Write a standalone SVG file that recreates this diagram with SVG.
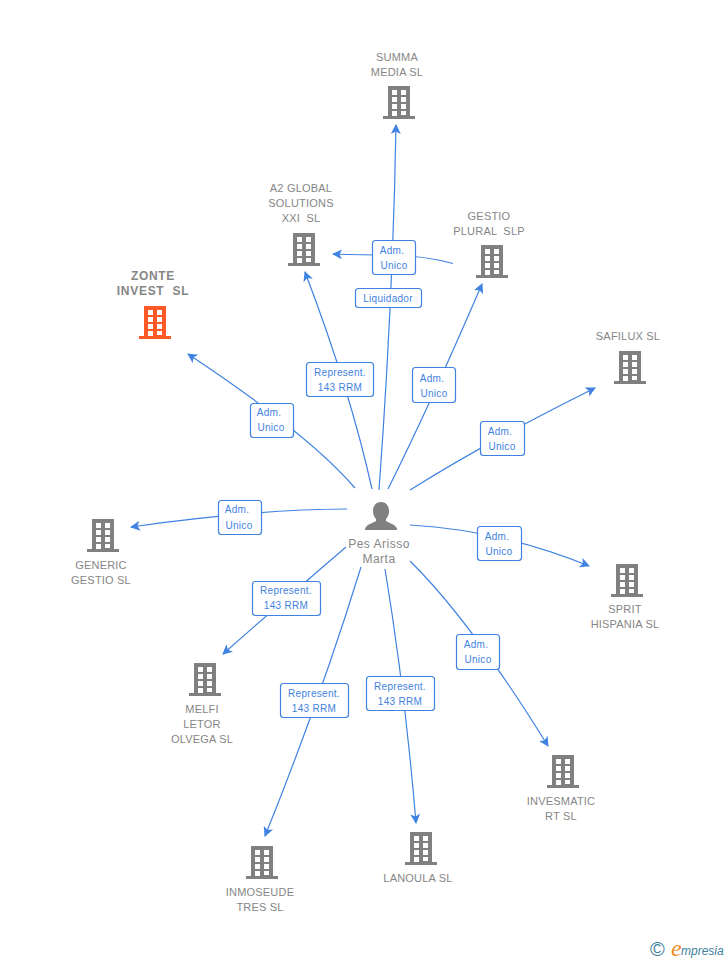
<svg xmlns="http://www.w3.org/2000/svg" width="728" height="960" viewBox="0 0 728 960">
<style>
text{font-family:"Liberation Sans",Arial,sans-serif}
.n{font-size:11px;fill:#868686;text-anchor:middle;letter-spacing:.2px}
.z{font-size:12px;font-weight:bold;fill:#868686;text-anchor:middle;letter-spacing:.7px}
.p{font-size:12px;fill:#868686;text-anchor:middle;letter-spacing:.5px}
.l{font-size:10px;fill:#3f82e2;text-anchor:middle;letter-spacing:.3px}
.b{fill:#fff;stroke:#3f82e2;stroke-width:1.2}
.c{fill:none;stroke:#3f82e2;stroke-width:1.2;marker-end:url(#a)}
.d{fill:none;stroke:#3f82e2;stroke-width:1.2}
</style>
<defs>
<marker id="a" markerWidth="12" markerHeight="12" refX="9" refY="5" orient="auto" markerUnits="userSpaceOnUse"><path d="M0 0L10 5L0 10L2.500 5Z" fill="#3f82e2"/></marker>
<path id="bld" fill-rule="evenodd" d="M-11 0H11V30H16V33H-16V30H-11ZM-7 4V9H-2V4ZM2 4V9H7V4ZM-7 11V16H-2V11ZM2 11V16H7V11ZM-7 18V23H-2V18ZM2 18V23H7V18ZM-7 25V30H-2V25ZM2 25V29H7V25Z"/>
</defs>
<g id="connectors">
<path class="c" d="M379 490Q393 300 396 125"/>
<path class="c" d="M372 489Q350 390 305 272"/>
<path class="d" d="M453 263.500Q425 256 394 255"/>
<path class="c" d="M394 255Q360 255 333 254"/>
<path class="c" d="M388 489Q430 405 482 284"/>
<path class="c" d="M355 488Q310 435 188 354"/>
<path class="c" d="M410 490Q490 440 595 388"/>
<path class="c" d="M347 509Q260 509 131 527"/>
<path class="c" d="M410 525Q500 530 589 566"/>
<path class="c" d="M346 547Q290 595 223 654"/>
<path class="c" d="M410 561Q470 620 548 746"/>
<path class="c" d="M385 569Q405 690 416 823"/>
<path class="c" d="M361 567Q320 700 265 836"/>
</g>
<g id="labels">
<rect class="b" x="372.500" y="240.500" width="43" height="34" rx="3"/><text class="l" x="392" y="254">Adm.</text><text class="l" x="394" y="269">Unico</text>
<rect class="b" x="355.500" y="288.500" width="66" height="19" rx="3"/><text class="l" x="388" y="302">Liquidador</text>
<rect class="b" x="306.500" y="362.500" width="67" height="34" rx="3"/><text class="l" x="340" y="376">Represent.</text><text class="l" x="340" y="391">143 RRM</text>
<rect class="b" x="412.500" y="367.500" width="43" height="35" rx="3"/><text class="l" x="432" y="382">Adm.</text><text class="l" x="434" y="397">Unico</text>
<rect class="b" x="250.500" y="403.500" width="43" height="34" rx="3"/><text class="l" x="269" y="416">Adm.</text><text class="l" x="271" y="431">Unico</text>
<rect class="b" x="480.500" y="421.500" width="44" height="34" rx="3"/><text class="l" x="500" y="435">Adm.</text><text class="l" x="502" y="450">Unico</text>
<rect class="b" x="218.500" y="500.500" width="43" height="34" rx="3"/><text class="l" x="237" y="513">Adm.</text><text class="l" x="239" y="529">Unico</text>
<rect class="b" x="477.500" y="526.500" width="44" height="34" rx="3"/><text class="l" x="497" y="540">Adm.</text><text class="l" x="499" y="555">Unico</text>
<rect class="b" x="252.500" y="581.500" width="68" height="34" rx="3"/><text class="l" x="286" y="594">Represent.</text><text class="l" x="286" y="609">143 RRM</text>
<rect class="b" x="456.500" y="634.500" width="43" height="35" rx="3"/><text class="l" x="476" y="648">Adm.</text><text class="l" x="478" y="663">Unico</text>
<rect class="b" x="366.500" y="676.500" width="68" height="34" rx="3"/><text class="l" x="400" y="690">Represent.</text><text class="l" x="400" y="705">143 RRM</text>
<rect class="b" x="280.500" y="683.500" width="68" height="34" rx="3"/><text class="l" x="314" y="697">Represent.</text><text class="l" x="314" y="712">143 RRM</text>
</g>
<g id="person">
<path fill="#808080" d="M381 502c-5 0-8 4-8 9 0 3 1 6 3 8v2c-3 2-8 3-10 6-1 1-1 2-1 3h32c0-1 0-2-1-3-2-3-7-4-10-6v-2c2-2 3-5 3-8 0-5-3-9-8-9Z"/>
<text class="p" x="379" y="548">Pes Arisso</text><text class="p" x="379" y="563">Marta</text>
</g>
<g id="summa" fill="#808080"><use href="#bld" x="399" y="86"/><text class="n" x="397" y="61">SUMMA</text><text class="n" x="397" y="76">MEDIA SL</text></g>
<g id="a2global" fill="#808080"><use href="#bld" x="304" y="233"/><text class="n" x="301" y="192">A2 GLOBAL</text><text class="n" x="301" y="207">SOLUTIONS</text><text class="n" x="301" y="222" xml:space="preserve">XXI  SL</text></g>
<g id="gestio" fill="#808080"><use href="#bld" x="492" y="245"/><text class="n" x="489" y="220">GESTIO</text><text class="n" x="489" y="235" xml:space="preserve">PLURAL  SLP</text></g>
<g id="zonte" fill="#ff5a26"><use href="#bld" x="155" y="306"/><text class="z" x="153" y="280">ZONTE</text><text class="z" x="153" y="295" xml:space="preserve">INVEST  SL</text></g>
<g id="safilux" fill="#808080"><use href="#bld" x="630" y="351"/><text class="n" x="628" y="340">SAFILUX SL</text></g>
<g id="generic" fill="#808080"><use href="#bld" x="103" y="519"/><text class="n" x="101" y="569">GENERIC</text><text class="n" x="101" y="584">GESTIO SL</text></g>
<g id="sprit" fill="#808080"><use href="#bld" x="627" y="564"/><text class="n" x="625" y="613">SPRIT</text><text class="n" x="625" y="628">HISPANIA SL</text></g>
<g id="melfi" fill="#808080"><use href="#bld" x="205" y="663"/><text class="n" x="202" y="713">MELFI</text><text class="n" x="202" y="728">LETOR</text><text class="n" x="202" y="743">OLVEGA SL</text></g>
<g id="invesmatic" fill="#808080"><use href="#bld" x="563" y="755"/><text class="n" x="561" y="805">INVESMATIC</text><text class="n" x="561" y="820">RT SL</text></g>
<g id="lanoula" fill="#808080"><use href="#bld" x="421" y="832"/><text class="n" x="418" y="882">LANOULA SL</text></g>
<g id="inmoseude" fill="#808080"><use href="#bld" x="262" y="846"/><text class="n" x="260" y="896">INMOSEUDE</text><text class="n" x="260" y="911">TRES SL</text></g>
<g id="logo"><text x="650" y="956" font-size="20" fill="#3d7f9c">©</text><text x="671" y="956" font-size="24" font-style="italic" fill="#f28a1e" style="font-family:'Liberation Serif',serif">e</text><text x="681" y="955" font-size="12" font-style="italic" fill="#3d7f9c">mpresia</text></g>
</svg>
